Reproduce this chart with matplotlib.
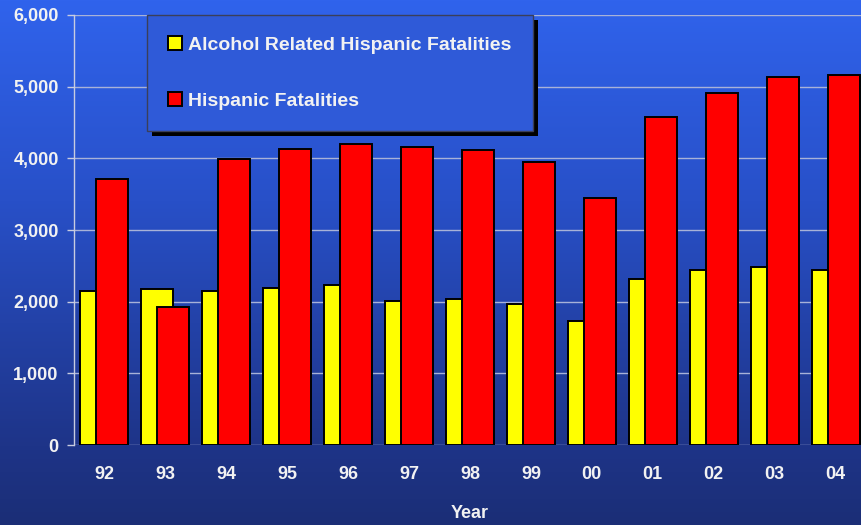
import numpy as np
import matplotlib
matplotlib.use("Agg")
import matplotlib.pyplot as plt
from matplotlib.patches import Rectangle

plt.rcParams['font.family'] = ['Liberation Sans', 'DejaVu Sans']
plt.rcParams['font.weight'] = 'bold'
plt.rcParams['axes.labelweight'] = 'bold'

years = ["92", "93", "94", "95", "96", "97", "98", "99", "00", "01", "02", "03", "04"]
alcohol_related = [2155, 2170, 2155, 2195, 2237, 2015, 2035, 1970, 1728, 2320, 2445, 2480, 2445]
hispanic_total = [3708, 1920, 3990, 4134, 4195, 4158, 4116, 3953, 3442, 4582, 4915, 5138, 5158]
y_ticks = [0, 1000, 2000, 3000, 4000, 5000, 6000]
series_labels = ["Alcohol Related Hispanic Fatalities", "Hispanic Fatalities"]

W, H, DPI = 862, 525, 100
fig = plt.figure(figsize=(W / DPI, H / DPI), dpi=DPI)

# vertical blue gradient backdrop
bg = fig.add_axes([0, 0, 1, 1], zorder=-10)
bg.set_axis_off()
rows = np.arange(H, dtype=float)
stops_y = [0, 200, 445, 525]
stops_c = np.array([[48, 99, 236], [40, 80, 200], [30, 52, 136], [27, 46, 118]]) / 255
grad = np.stack([np.interp(rows, stops_y, stops_c[:, k]) for k in range(3)], axis=1)
bg.imshow(grad[:, None, :].repeat(4, axis=1), aspect='auto', extent=[0, 1, 0, 1])

ax = fig.add_axes([74 / W, 80 / H, 792 / W, 430 / H])
ax.set_facecolor('none')

x = np.arange(len(years))
width = 0.525
off = 0.131
ax.bar(x - off, alcohol_related, width, color='#ffff00', edgecolor='black',
       linewidth=1.4, zorder=3, label=series_labels[0])
ax.bar(x + off, hispanic_total, width, color='#ff0000', edgecolor='black',
       linewidth=1.4, zorder=4, label=series_labels[1])

ax.set_xlim(-0.5, len(years) - 0.5)
ax.set_ylim(0, 6000)
ax.set_yticks(y_ticks)
ax.set_yticklabels([f"{v:,}" for v in y_ticks])
ax.set_xticks(x)
ax.set_xticklabels(years)

txt_color = '#f2f2f2'
ax.tick_params(axis='y', colors='#c8cce0', labelcolor=txt_color, labelsize=13,
               length=5, width=1, pad=6)
ax.tick_params(axis='x', length=0, labelcolor=txt_color, labelsize=13, pad=15)
ax.grid(axis='y', color='#a8b2d8', linewidth=1, zorder=0)
for s in ['top', 'right', 'bottom']:
    ax.spines[s].set_visible(False)
ax.spines['left'].set_color('#c8cce0')
ax.spines['left'].set_linewidth(1)

ax.set_xlabel("Year", color=txt_color, fontsize=13, fontweight='bold', labelpad=16)

leg = ax.legend(loc='upper left', bbox_to_anchor=(147 / W, 1 - 15 / H),
                bbox_transform=fig.transFigure, fontsize=14,
                handlelength=0.7, handleheight=0.7, handletextpad=0.3,
                borderpad=1.1, labelspacing=1.95, borderaxespad=0,
                frameon=True, fancybox=False)
frame = leg.get_frame()
frame.set_facecolor('#2f5ad8')
frame.set_edgecolor('#3a3f5a')
frame.set_linewidth(1)
frame.set_alpha(1)
for t_ in leg.get_texts():
    t_.set_color(txt_color)
leg.set_zorder(10)

fig.canvas.draw()
bb = leg.get_window_extent()
shadow = Rectangle((bb.x0 + 5, bb.y0 - 5), bb.width, bb.height,
                   transform=None, facecolor='black', edgecolor='none', zorder=9)
ax.add_artist(shadow)

fig.savefig("out.png", dpi=DPI)
